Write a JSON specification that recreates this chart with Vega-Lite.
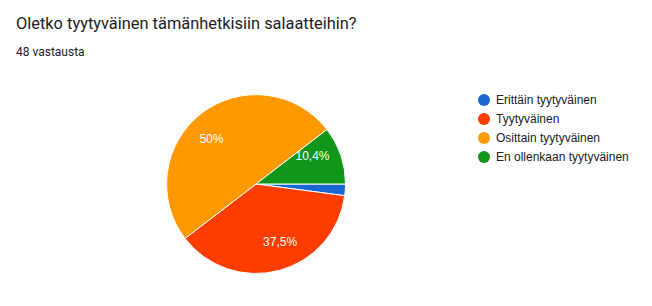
{
  "$schema": "https://vega.github.io/schema/vega-lite/v6.json",
  "autosize": {"type": "none"},
  "width": 512,
  "height": 180,
  "padding": {"left": 0, "top": 94, "right": 140, "bottom": 32},
  "background": "white",
  "title": {
    "text": "Oletko tyytyväinen tämänhetkisiin salaatteihin?",
    "subtitle": "48 vastausta",
    "anchor": "start",
    "frame": "group",
    "orient": "top",
    "dx": 16,
    "offset": 35,
    "font": "Roboto",
    "fontSize": 16.4,
    "fontWeight": "normal",
    "color": "#202124",
    "subtitleFont": "Roboto",
    "subtitleFontSize": 12,
    "subtitleColor": "#202124",
    "subtitlePadding": 14
  },
  "data": {
    "values": [
      {"vastaus": "Erittäin tyytyväinen", "n": 1, "osuus": "", "i": 0},
      {"vastaus": "Tyytyväinen", "n": 18, "osuus": "37,5%", "i": 1},
      {"vastaus": "Osittain tyytyväinen", "n": 24, "osuus": "50%", "i": 2},
      {"vastaus": "En ollenkaan tyytyväinen", "n": 5, "osuus": "10,4%", "i": 3}
    ]
  },
  "encoding": {
    "theta": {"field": "n", "type": "quantitative", "stack": true, "scale": {"range": [1.5707963, 7.8539816]}},
    "order": {"field": "i", "type": "quantitative"}
  },
  "layer": [
    {
      "mark": {"type": "arc", "outerRadius": 89.5, "stroke": "white", "strokeWidth": 1},
      "encoding": {
        "color": {
          "field": "vastaus",
          "type": "nominal",
          "sort": ["Erittäin tyytyväinen", "Tyytyväinen", "Osittain tyytyväinen", "En ollenkaan tyytyväinen"],
          "scale": {
            "domain": ["Erittäin tyytyväinen", "Tyytyväinen", "Osittain tyytyväinen", "En ollenkaan tyytyväinen"],
            "range": ["#1a66d2", "#ff3d00", "#ff9900", "#109618"]
          },
          "legend": {
            "title": null,
            "orient": "none",
            "legendX": 478,
            "legendY": 0,
            "padding": 0,
            "symbolType": "circle",
            "symbolSize": 144,
            "symbolStrokeWidth": 0,
            "rowPadding": 7,
            "labelOffset": 6,
            "labelFont": "Liberation Sans",
            "labelFontSize": 12,
            "labelColor": "#222222",
            "labelLimit": 300
          }
        }
      }
    },
    {
      "transform": [{"filter": "datum.n > 2"}],
      "mark": {"type": "text", "radius": 63, "font": "Liberation Sans", "fontSize": 12, "color": "white", "baseline": "middle", "align": "center"},
      "encoding": {
        "text": {"field": "osuus", "type": "nominal"}
      }
    }
  ],
  "config": {"view": {"stroke": null}}
}
